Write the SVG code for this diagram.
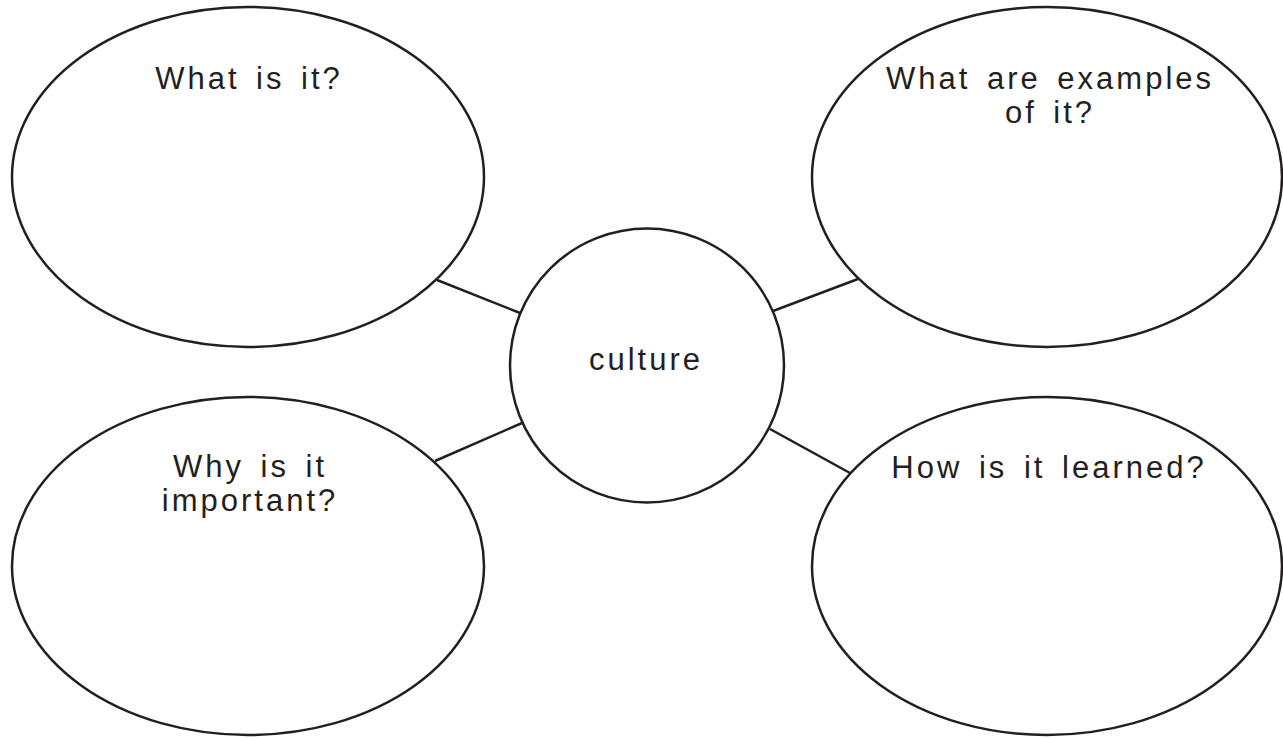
<svg xmlns="http://www.w3.org/2000/svg" width="1283" height="738" viewBox="0 0 1283 738">
  <style>
    .shape { fill: #ffffff; stroke: #231f20; stroke-width: 2.5; }
    .conn { stroke: #231f20; stroke-width: 2.5; fill: none; }
    .label { font-family: "Liberation Sans", Arial, sans-serif; font-size: 31px; fill: #231f20; text-anchor: middle; letter-spacing: 3px; word-spacing: 5px; }
  </style>
  <rect x="0" y="0" width="1283" height="738" fill="#ffffff"/>
  <g id="connectors">
    <line class="conn" x1="437" y1="280" x2="520" y2="313"/>
    <line class="conn" x1="858" y1="279" x2="773" y2="311"/>
    <line class="conn" x1="435" y1="461" x2="522" y2="423"/>
    <line class="conn" x1="850" y1="473" x2="770" y2="429"/>
  </g>
  <g id="node-what">
    <ellipse class="shape" cx="248" cy="177" rx="236" ry="170"/>
    <text class="label" x="249" y="89">What is it?</text>
  </g>
  <g id="node-examples">
    <ellipse class="shape" cx="1047" cy="177" rx="235" ry="170"/>
    <text class="label" x="1050" y="89">What are examples</text>
    <text class="label" x="1050" y="123">of it?</text>
  </g>
  <g id="node-why">
    <ellipse class="shape" cx="248" cy="566" rx="236" ry="169"/>
    <text class="label" x="250" y="477">Why is it</text>
    <text class="label" x="250" y="511">important?</text>
  </g>
  <g id="node-how">
    <ellipse class="shape" cx="1047" cy="566" rx="235" ry="169"/>
    <text class="label" x="1049" y="478">How is it learned?</text>
  </g>
  <g id="node-culture">
    <circle class="shape" cx="647" cy="365.5" r="137"/>
    <text class="label" x="646" y="370">culture</text>
  </g>
</svg>
